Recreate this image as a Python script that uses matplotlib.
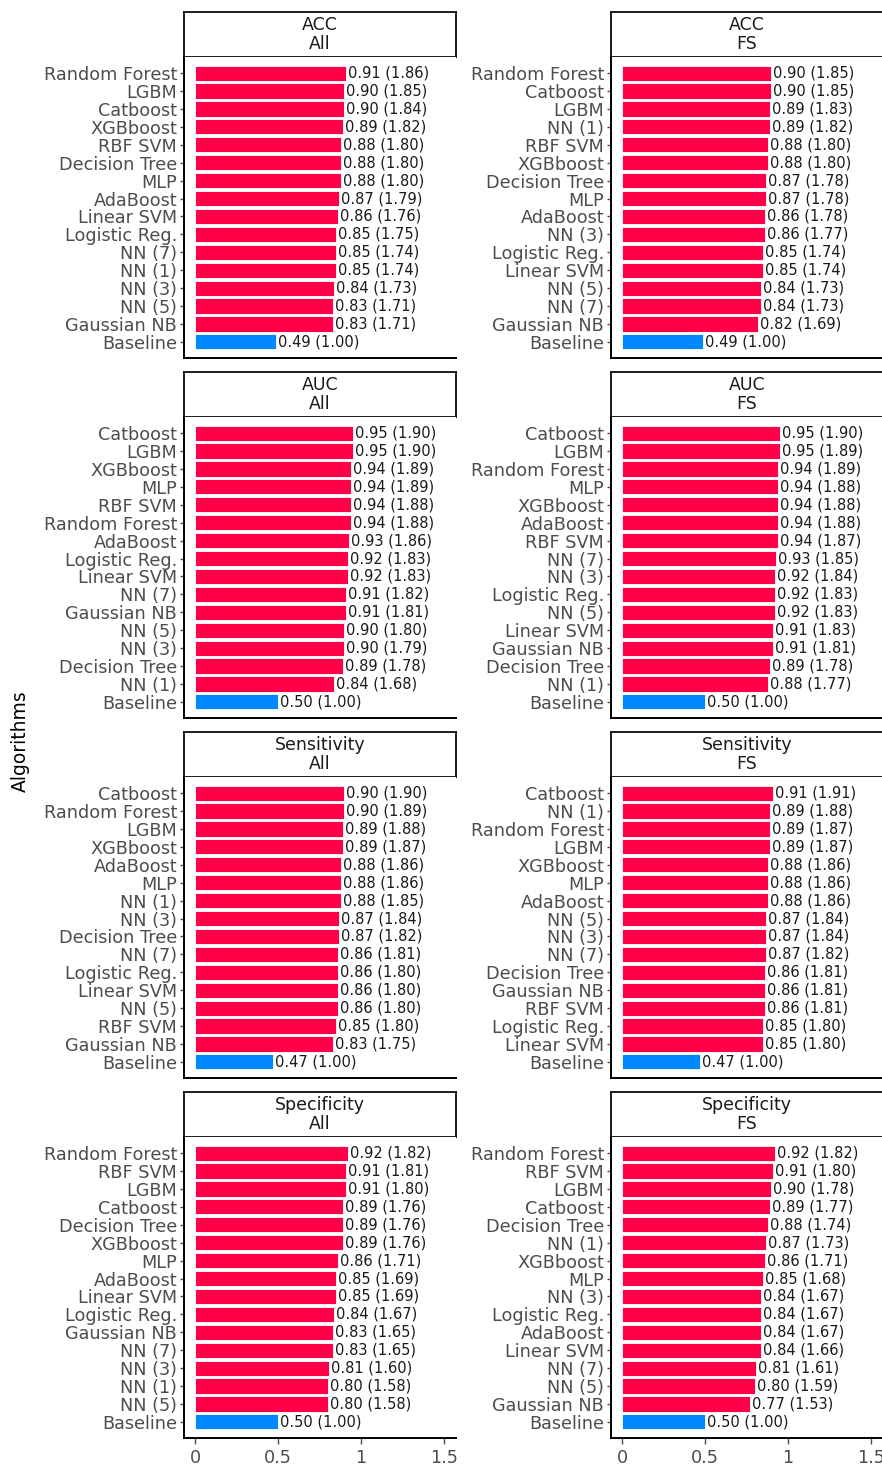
import matplotlib
matplotlib.use("Agg")
import matplotlib.pyplot as plt

# metric panels: (metric, feature set) -> ordered algorithms, score, ratio to baseline
acc_all_names = ["Random Forest", "LGBM", "Catboost", "XGBboost", "RBF SVM", "Decision Tree",
                 "MLP", "AdaBoost", "Linear SVM", "Logistic Reg.", "NN (7)", "NN (1)",
                 "NN (3)", "NN (5)", "Gaussian NB", "Baseline"]
acc_all_vals = [0.91, 0.90, 0.90, 0.89, 0.88, 0.88, 0.88, 0.87, 0.86, 0.85, 0.85, 0.85,
                0.84, 0.83, 0.83, 0.49]
acc_all_ratio = [1.86, 1.85, 1.84, 1.82, 1.80, 1.80, 1.80, 1.79, 1.76, 1.75, 1.74, 1.74,
                 1.73, 1.71, 1.71, 1.00]

acc_fs_names = ["Random Forest", "Catboost", "LGBM", "NN (1)", "RBF SVM", "XGBboost",
                "Decision Tree", "MLP", "AdaBoost", "NN (3)", "Logistic Reg.", "Linear SVM",
                "NN (5)", "NN (7)", "Gaussian NB", "Baseline"]
acc_fs_vals = [0.90, 0.90, 0.89, 0.89, 0.88, 0.88, 0.87, 0.87, 0.86, 0.86, 0.85, 0.85,
               0.84, 0.84, 0.82, 0.49]
acc_fs_ratio = [1.85, 1.85, 1.83, 1.82, 1.80, 1.80, 1.78, 1.78, 1.78, 1.77, 1.74, 1.74,
                1.73, 1.73, 1.69, 1.00]

auc_all_names = ["Catboost", "LGBM", "XGBboost", "MLP", "RBF SVM", "Random Forest",
                 "AdaBoost", "Logistic Reg.", "Linear SVM", "NN (7)", "Gaussian NB", "NN (5)",
                 "NN (3)", "Decision Tree", "NN (1)", "Baseline"]
auc_all_vals = [0.95, 0.95, 0.94, 0.94, 0.94, 0.94, 0.93, 0.92, 0.92, 0.91, 0.91, 0.90,
                0.90, 0.89, 0.84, 0.50]
auc_all_ratio = [1.90, 1.90, 1.89, 1.89, 1.88, 1.88, 1.86, 1.83, 1.83, 1.82, 1.81, 1.80,
                 1.79, 1.78, 1.68, 1.00]

auc_fs_names = ["Catboost", "LGBM", "Random Forest", "MLP", "XGBboost", "AdaBoost",
                "RBF SVM", "NN (7)", "NN (3)", "Logistic Reg.", "NN (5)", "Linear SVM",
                "Gaussian NB", "Decision Tree", "NN (1)", "Baseline"]
auc_fs_vals = [0.95, 0.95, 0.94, 0.94, 0.94, 0.94, 0.94, 0.93, 0.92, 0.92, 0.92, 0.91,
               0.91, 0.89, 0.88, 0.50]
auc_fs_ratio = [1.90, 1.89, 1.89, 1.88, 1.88, 1.88, 1.87, 1.85, 1.84, 1.83, 1.83, 1.83,
                1.81, 1.78, 1.77, 1.00]

sens_all_names = ["Catboost", "Random Forest", "LGBM", "XGBboost", "AdaBoost", "MLP",
                  "NN (1)", "NN (3)", "Decision Tree", "NN (7)", "Logistic Reg.", "Linear SVM",
                  "NN (5)", "RBF SVM", "Gaussian NB", "Baseline"]
sens_all_vals = [0.90, 0.90, 0.89, 0.89, 0.88, 0.88, 0.88, 0.87, 0.87, 0.86, 0.86, 0.86,
                 0.86, 0.85, 0.83, 0.47]
sens_all_ratio = [1.90, 1.89, 1.88, 1.87, 1.86, 1.86, 1.85, 1.84, 1.82, 1.81, 1.80, 1.80,
                  1.80, 1.80, 1.75, 1.00]

sens_fs_names = ["Catboost", "NN (1)", "Random Forest", "LGBM", "XGBboost", "MLP",
                 "AdaBoost", "NN (5)", "NN (3)", "NN (7)", "Decision Tree", "Gaussian NB",
                 "RBF SVM", "Logistic Reg.", "Linear SVM", "Baseline"]
sens_fs_vals = [0.91, 0.89, 0.89, 0.89, 0.88, 0.88, 0.88, 0.87, 0.87, 0.87, 0.86, 0.86,
                0.86, 0.85, 0.85, 0.47]
sens_fs_ratio = [1.91, 1.88, 1.87, 1.87, 1.86, 1.86, 1.86, 1.84, 1.84, 1.82, 1.81, 1.81,
                 1.81, 1.80, 1.80, 1.00]

spec_all_names = ["Random Forest", "RBF SVM", "LGBM", "Catboost", "Decision Tree", "XGBboost",
                  "MLP", "AdaBoost", "Linear SVM", "Logistic Reg.", "Gaussian NB", "NN (7)",
                  "NN (3)", "NN (1)", "NN (5)", "Baseline"]
spec_all_vals = [0.92, 0.91, 0.91, 0.89, 0.89, 0.89, 0.86, 0.85, 0.85, 0.84, 0.83, 0.83,
                 0.81, 0.80, 0.80, 0.50]
spec_all_ratio = [1.82, 1.81, 1.80, 1.76, 1.76, 1.76, 1.71, 1.69, 1.69, 1.67, 1.65, 1.65,
                  1.60, 1.58, 1.58, 1.00]

spec_fs_names = ["Random Forest", "RBF SVM", "LGBM", "Catboost", "Decision Tree", "NN (1)",
                 "XGBboost", "MLP", "NN (3)", "Logistic Reg.", "AdaBoost", "Linear SVM",
                 "NN (7)", "NN (5)", "Gaussian NB", "Baseline"]
spec_fs_vals = [0.92, 0.91, 0.90, 0.89, 0.88, 0.87, 0.86, 0.85, 0.84, 0.84, 0.84, 0.84,
                0.81, 0.80, 0.77, 0.50]
spec_fs_ratio = [1.82, 1.80, 1.78, 1.77, 1.74, 1.73, 1.71, 1.68, 1.67, 1.67, 1.67, 1.66,
                 1.61, 1.59, 1.53, 1.00]

panels = [
    ("ACC", "All", acc_all_names, acc_all_vals, acc_all_ratio),
    ("ACC", "FS", acc_fs_names, acc_fs_vals, acc_fs_ratio),
    ("AUC", "All", auc_all_names, auc_all_vals, auc_all_ratio),
    ("AUC", "FS", auc_fs_names, auc_fs_vals, auc_fs_ratio),
    ("Sensitivity", "All", sens_all_names, sens_all_vals, sens_all_ratio),
    ("Sensitivity", "FS", sens_fs_names, sens_fs_vals, sens_fs_ratio),
    ("Specificity", "All", spec_all_names, spec_all_vals, spec_all_ratio),
    ("Specificity", "FS", spec_fs_names, spec_fs_vals, spec_fs_ratio),
]

RED = "#FF0048"
BLUE = "#0088FF"
GREY = "#4D4D4D"

W, H = 882, 1467
fig = plt.figure(figsize=(W / 100, H / 100), dpi=100)

col_x = [184, 611]
panel_w = 272
row_top = [12, 372, 732, 1092]
strip_h = 45
plot_h = 301


def frac(x, y, w, h):
    # pixel box (top-left origin) -> figure fraction
    return [x / W, 1 - (y + h) / H, w / W, h / H]


for i, (metric, subset, names, vals, ratio) in enumerate(panels):
    r, c = divmod(i, 2)
    x0 = col_x[c]
    top = row_top[r]

    # facet strip
    sax = fig.add_axes(frac(x0, top, panel_w, strip_h))
    sax.set_xticks([])
    sax.set_yticks([])
    for sp in sax.spines.values():
        sp.set_linewidth(1.4)
        sp.set_color("#1a1a1a")
    sax.text(0.5, 0.5, f"{metric}\n{subset}", ha="center", va="center",
             fontsize=12.5, color="#1a1a1a", linespacing=1.05, transform=sax.transAxes)

    ax = fig.add_axes(frac(x0, top + strip_h, panel_w, plot_h))
    ypos = list(range(len(names)))
    colors = [BLUE if n == "Baseline" else RED for n in names]
    ax.barh(ypos, vals, height=0.85, color=colors, edgecolor="white", linewidth=0.6)
    for y, v, rt in zip(ypos, vals, ratio):
        ax.text(v + 0.012, y, f"{v:.2f} ({rt:.2f})", va="center", ha="left",
                fontsize=10.5, color="#1a1a1a")

    ax.set_yticks(ypos)
    ax.set_yticklabels(names, fontsize=12.7, color=GREY)
    ax.set_ylim(len(names) - 0.1, -0.9)
    ax.set_xlim(-0.066, 1.572)
    ax.set_xticks([0, 0.5, 1, 1.5])
    ax.spines["top"].set_visible(False)
    ax.spines["right"].set_visible(False)
    ax.spines["left"].set_linewidth(1.4)
    ax.spines["bottom"].set_linewidth(1.4)
    ax.tick_params(axis="y", length=3, width=1, color=GREY, pad=2)
    if r == 3:
        ax.set_xticklabels(["0", "0.5", "1", "1.5"], fontsize=12.7, color=GREY)
        ax.tick_params(axis="x", length=4, width=1, color=GREY, pad=4)
    else:
        ax.tick_params(axis="x", length=0, labelbottom=False)

fig.text(20 / W, 1 - 741 / H, "Algorithms", rotation=90, ha="center", va="center",
         fontsize=13.5, color="black")

fig.savefig("out.png", dpi=100)
